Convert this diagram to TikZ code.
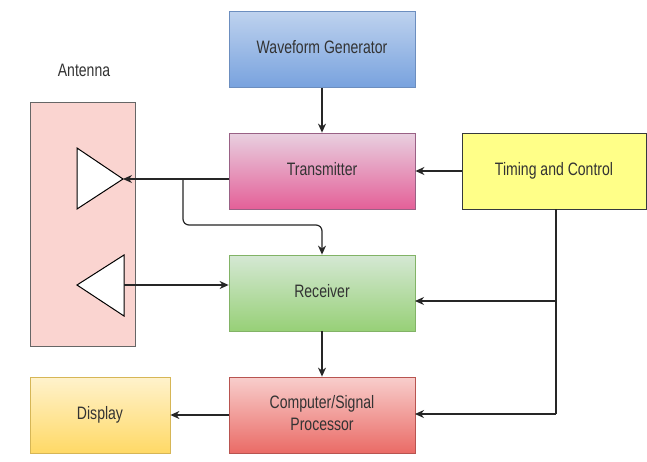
\documentclass[tikz,border=0pt]{standalone}
\usepackage{fontspec}
\setmainfont{Liberation Sans}
\usetikzlibrary{arrows.meta}
\definecolor{txt}{HTML}{333333}
\definecolor{antfill}{RGB}{250,212,208}
\definecolor{wgd}{RGB}{108,142,191}
\definecolor{wgt}{RGB}{190,210,238}
\definecolor{wgb}{RGB}{120,162,222}
\definecolor{txd}{RGB}{153,97,133}
\definecolor{txt1}{RGB}{232,208,224}
\definecolor{txb}{RGB}{228,96,152}
\definecolor{rxd}{RGB}{130,179,102}
\definecolor{rxt}{RGB}{213,232,212}
\definecolor{rxb}{RGB}{151,208,119}
\definecolor{cpd}{RGB}{184,84,80}
\definecolor{cpt}{RGB}{248,206,204}
\definecolor{cpb}{RGB}{234,107,102}
\definecolor{dsd}{RGB}{214,182,86}
\definecolor{dst}{RGB}{255,242,204}
\definecolor{dsb}{RGB}{255,217,102}
\definecolor{tcd}{RGB}{54,57,61}
\definecolor{tcf}{RGB}{255,255,136}
\newcommand{\lbl}[1]{\scalebox{0.78}[1]{\begin{tabular}{@{}c@{}}#1\end{tabular}}}
\tikzset{
  blk/.style={draw=#1, line width=0.8pt, minimum height=76pt, minimum width=186pt, inner sep=0pt,
    font=\fontsize{18}{22}\selectfont, text=txt},
  con/.style={line width=1.2pt, draw=black!85, -{Stealth[length=9pt,width=8pt]}},
  ln/.style={line width=1.2pt, draw=black!85},
}
\begin{document}
\begin{tikzpicture}[x=1pt,y=-1pt]
\useasboundingbox[fill=white] (0,0) rectangle (647,461);
% antenna box
\node[draw=black!60, fill=antfill, line width=0.8pt, minimum width=105pt, minimum height=244pt, inner sep=0pt] (ant) at (82.5,224) {};
\node[font=\fontsize{18}{22}\selectfont, text=txt] (antl) at (84,72) {\lbl{Antenna}};
% triangles
\coordinate (t1a) at (77,148);
\coordinate (t1b) at (77,209);
\coordinate (t1tip) at (123,179);
\draw[fill=white, line width=1pt] (t1a) -- (t1tip) -- (t1b) -- cycle;
\coordinate (t2a) at (124,255);
\coordinate (t2b) at (124,316);
\coordinate (t2tip) at (77,285);
\coordinate (t2base) at (124,285);
\draw[fill=white, line width=1pt] (t2a) -- (t2tip) -- (t2b) -- cycle;
% blocks
\node[blk=wgd, top color=wgt, bottom color=wgb] (wg) at (322,49.5) {\lbl{Waveform Generator}};
\node[blk=txd, top color=txt1, bottom color=txb] (tx) at (322,171) {\lbl{Transmitter}};
\node[blk=rxd, top color=rxt, bottom color=rxb] (rx) at (322,293) {\lbl{Receiver}};
\node[blk=cpd, top color=cpt, bottom color=cpb] (cp) at (322,415) {\lbl{Computer/Signal\\Processor}};
\node[blk=dsd, minimum width=140pt, top color=dst, bottom color=dsb] (disp) at (100,415) {\lbl{Display}};
\node[blk=tcd, minimum width=184pt, fill=tcf] (tc) at (554,171) {\lbl{Timing and Control}};
% connectors
\draw[con] (wg.south) -- (tx.north);
\coordinate (txout) at ([yshift=-8pt]tx.west);
\draw[con] (txout) -- (t1tip);
\coordinate (br1) at (183,179);
\coordinate (br2) at (183,225);
\coordinate (br3) at (322,225);
\draw[con, rounded corners=6pt] (br1) -- (br2) -- (br3) -- (rx.north);
\coordinate (rxin) at ([yshift=8pt]rx.west);
\draw[con] (t2base) -- (rxin);
\draw[con] (rx.south) -- (cp.north);
\draw[con] (cp.west) -- (disp.east);
\draw[con] (tc.west) -- (tx.east);
\coordinate (tcs) at (556,209);
\coordinate (tcm) at (556,301);
\coordinate (tcb) at (556,414);
\coordinate (rxr) at (415,301);
\coordinate (cpr) at (415,414);
\draw[ln] (tcs) -- (tcb);
\draw[con] (tcm) -- (rxr);
\draw[con] (tcb) -- (cpr);
\end{tikzpicture}
\end{document}
